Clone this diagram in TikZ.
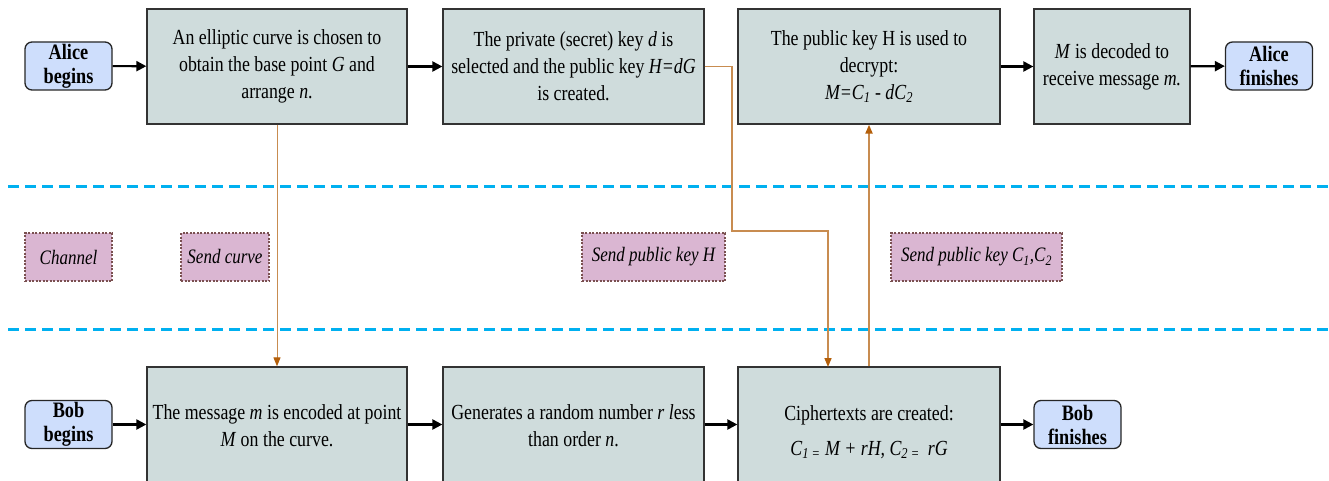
\documentclass[tikz,border=0pt]{standalone}
\usepackage{fontspec}
\setmainfont[FakeStretch=0.83]{Liberation Serif}
\usetikzlibrary{arrows.meta}
\definecolor{boxfill}{RGB}{207,220,220}
\definecolor{startfill}{RGB}{206,222,252}
\definecolor{chanfill}{RGB}{218,182,210}
\definecolor{chanline}{RGB}{122,80,80}
\definecolor{sepblue}{RGB}{0,176,240}
\definecolor{orangeline}{RGB}{200,140,80}
\definecolor{orangetip}{RGB}{180,95,10}
\begin{document}
\begin{tikzpicture}[x=1pt,y=-1pt,
 stepbox/.style={draw=black!80, line width=1.3pt, fill=boxfill, inner sep=0pt},
 term/.style={draw=black!85, line width=1.3pt, fill=startfill, rounded corners=7pt, minimum width=87pt, minimum height=48pt, inner sep=0pt, align=center, font=\fontsize{22}{24}\selectfont\bfseries},
 txt/.style={align=center, font=\fontsize{21.5}{27}\selectfont, inner sep=0pt},
 chan/.style={draw=chanline, line width=1.3pt, dash pattern=on 2pt off 1.5pt, fill=chanfill, minimum height=48pt, inner sep=0pt, font=\fontsize{20.5}{24}\selectfont\itshape},
 flow/.style={-{Triangle[length=10pt,width=10pt]}, line width=2.2pt, black},
 send/.style={-{Triangle[length=9pt,width=7pt,color=orangetip]}, draw=orangeline},
 sep/.style={sepblue, line width=3pt, dash pattern=on 11pt off 6pt}
]
\useasboundingbox (0,0) rectangle (1329,481);

% separators
\coordinate (s1a) at (8,186); \coordinate (s1b) at (1329,186);
\coordinate (s2a) at (8,329); \coordinate (s2b) at (1329,329);
\draw[sep] (s1a) -- (s1b);
\draw[sep] (s2a) -- (s2b);

% top row
\node[term] (ab) at (68.5,66) {Alice\\begins};
\node[stepbox, minimum width=260pt, minimum height=115pt] (b1) at (277,66.5) {};
\node[txt] (t1) at (277,66.5) {An elliptic curve is chosen to\\obtain the base point \textit{G} and\\arrange \textit{n}.};
\node[stepbox, minimum width=261pt, minimum height=115pt] (b2) at (573.5,66.5) {};
\node[txt] (t2) at (573.5,66.5) {The private (secret) key \textit{d} is\\selected and the public key \textit{H=dG}\\is created.};
\node[stepbox, minimum width=262pt, minimum height=115pt] (b3) at (869,66.5) {};
\node[txt] (t3) at (869,66.5) {The public key H is used to\\decrypt:\\\textit{M=C\textsubscript{1} - dC\textsubscript{2}}};
\node[stepbox, minimum width=156pt, minimum height=115pt] (b4) at (1112,66.5) {};
\node[txt] (t4) at (1112,66.5) {\textit{M} is decoded to\\receive message \textit{m.}};
\node[term] (af) at (1269,66) {Alice\\finishes};

\draw[flow] (ab) -- (b1);
\draw[flow] (b1) -- (b2);
\draw[flow] (b3) -- (b4);
\draw[flow] (b4) -- (af);

% channel row
\node[chan, minimum width=87pt] (ch) at (68.5,257) {Channel};
\node[chan, minimum width=88pt] (sc) at (225,257) {Send curve};
\node[chan, minimum width=143pt] (sh) at (653.5,257) {Send public key \textit{H}};
\node[chan, minimum width=171pt] (sk) at (976.5,257) {Send public key \textit{C\textsubscript{1}},\textit{C\textsubscript{2}}};

% bottom row
\node[term] (bb) at (68.5,424.5) {Bob\\begins};
\node[stepbox, minimum width=260pt, minimum height=133pt] (b5) at (277,433.5) {};
\node[txt] (t5) at (277,426) {The message \textit{m} is encoded at point\\\textit{M} on the curve.};
\node[stepbox, minimum width=261pt, minimum height=133pt] (b6) at (573.5,433.5) {};
\node[txt] (t6) at (573.5,426) {Generates a random number \textit{r l}ess\\than order \textit{n}.};
\node[stepbox, minimum width=262pt, minimum height=133pt] (b7) at (869,433.5) {};
\node[txt] (t7) at (869,432) {Ciphertexts are created:\\[8pt]\textit{C\textsubscript{1 =} M + rH, C\textsubscript{2 =} \,rG}};
\node[term] (bf) at (1077.5,424.5) {Bob\\finishes};

\draw[flow] (bb) -- (bb -| b5.west);
\draw[flow] (bb -| b5.east) -- (bb -| b6.west);
\draw[flow] (bb -| b6.east) -- (bb -| b7.west);
\draw[flow] (bb -| b7.east) -- (bf);

% sending connectors
\coordinate (k1) at (732,231);
\coordinate (k2) at (828,367);
\draw[send, line width=1pt] (b1.south) -- (b5.north);
\draw[send, line width=1.5pt] (b2.east) -| (k1) -| (k2);
\draw[send, line width=2pt] (b7.north) -- (b3.south);
\end{tikzpicture}
\end{document}
